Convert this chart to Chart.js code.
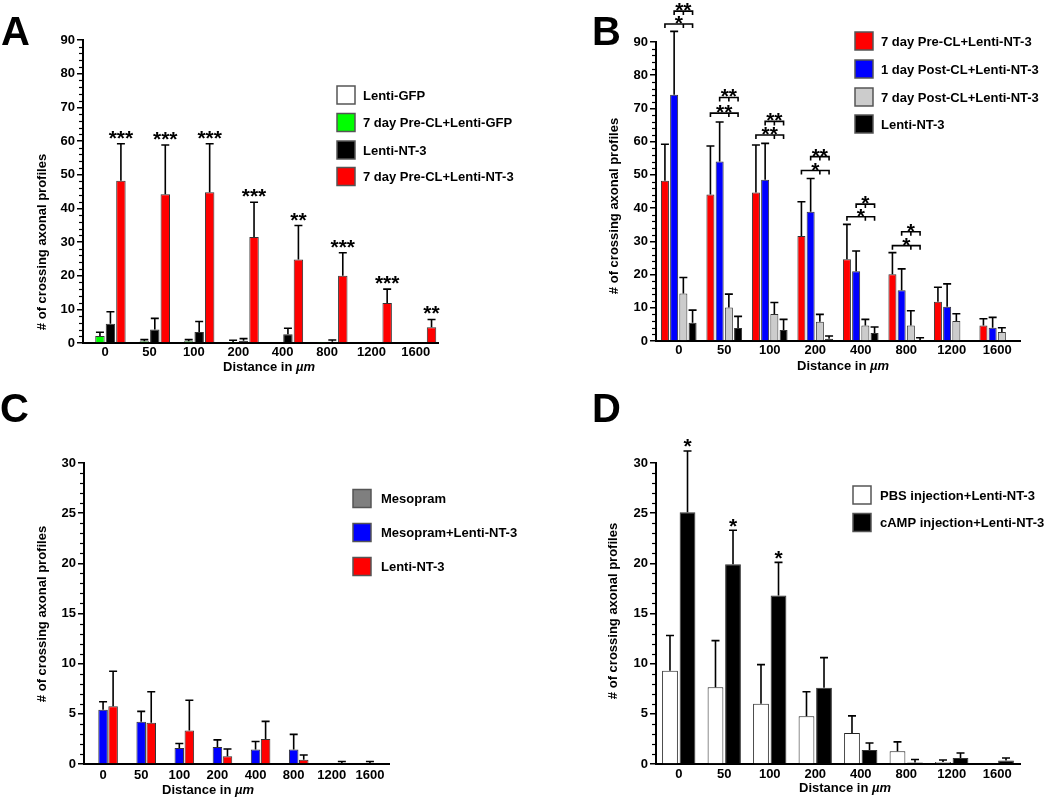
<!DOCTYPE html>
<html>
<head>
<meta charset="utf-8">
<script src="https://cdn.jsdelivr.net/npm/chart.js@4.4.1/dist/chart.umd.min.js"></script>
<style>
  html, body { margin: 0; padding: 0; background: #fff; }
  #wrap { position: relative; width: 1050px; height: 799px; }
  canvas { position: absolute; }
</style>
</head>
<body>
<div id="wrap">
  <canvas id="chartA" width="520" height="390" style="left:0;top:0"></canvas>
  <canvas id="chartB" width="530" height="390" style="left:520px;top:0"></canvas>
  <canvas id="chartC" width="520" height="409" style="left:0;top:390px"></canvas>
  <canvas id="chartD" width="530" height="409" style="left:520px;top:390px"></canvas>
</div>
<script>
const distances = ['0', '50', '100', '200', '400', '800', '1200', '1600'];

// panel A
const aLentiGfp = [0, 0, 0, 0, 0, 0, 0, 0];
const aPreClGfp = [2.1, 0.5, 0.5, 0.3, 0, 0.3, 0, 0];
const aPreClGfpErr = [1.1, 0.5, 0.5, 0.5, 0, 0, 0, 0];
const aLentiNt3 = [5.7, 4.0, 3.3, 0.7, 2.6, 0.4, 0.3, 0];
const aLentiNt3Err = [3.6, 3.3, 3.1, 0.6, 1.8, 0.5, 0, 0];
const aPreClNt3 = [48.2, 44.2, 44.8, 31.5, 24.8, 20.0, 11.9, 4.7];
const aPreClNt3Err = [11.0, 14.6, 14.4, 10.3, 10.1, 6.8, 4.1, 2.3];
const aStars = ['***', '***', '***', '***', '**', '***', '***', '**'];

// panel B
const bPreCl = [48.2, 44.1, 44.7, 31.6, 24.6, 20.1, 11.8, 4.7];
const bPreClErr = [11.0, 14.6, 14.3, 10.3, 10.5, 6.5, 4.4, 2.0];
const bPost1 = [74.1, 54.0, 48.5, 38.9, 21.0, 15.3, 10.3, 4.0];
const bPost1Err = [19.1, 11.9, 11.0, 10.0, 6.1, 6.4, 6.9, 3.1];
const bPost7 = [14.3, 10.1, 8.1, 5.8, 4.7, 4.7, 6.0, 2.7];
const bPost7Err = [4.8, 4.0, 3.5, 2.2, 1.8, 4.4, 2.2, 1.3];
const bLentiNt3 = [5.5, 3.9, 3.3, 0.7, 2.4, 0.3, 0.2, 0];
const bLentiNt3Err = [3.8, 3.5, 3.2, 0.8, 1.8, 0.7, 0, 0];
// significance brackets (height in axis units)
const bLowLevel = [95.4, 68.6, 62.0, 51.3, 37.4, 28.7];
const bLowStars = ['*', '**', '**', '*', '*', '*'];
const bHighLevel = [99.3, 73.3, 66.1, 55.5, 41.2, 32.9];
const bHighStars = ['**', '**', '**', '**', '*', '*'];

// panel C
const cMesopram = [0, 0, 0, 0, 0, 0, 0, 0];
const cMesoNt3 = [5.4, 4.2, 1.6, 1.7, 1.45, 1.45, 0, 0];
const cMesoNt3Err = [0.8, 1.05, 0.45, 0.7, 0.8, 1.5, 0, 0.25];
const cLentiNt3 = [5.75, 4.1, 3.35, 0.76, 2.5, 0.43, 0, 0];
const cLentiNt3Err = [3.5, 3.1, 3.0, 0.74, 1.75, 0.47, 0.25, 0];

// panel D
const dPbs = [9.3, 7.65, 6.0, 4.75, 3.1, 1.26, 0.2, 0];
const dPbsErr = [3.5, 4.65, 3.9, 2.45, 1.7, 0.95, 0.2, 0];
const dCamp = [25.1, 19.9, 16.8, 7.6, 1.4, 0.15, 0.6, 0.35];
const dCampErr = [6.1, 3.4, 3.3, 3.0, 0.7, 0.3, 0.5, 0.25];
const dStars = ['*', '*', '*', '', '', '', '', ''];

const FONT = "'Liberation Sans', Arial, Helvetica, sans-serif";
const tickFont = { family: FONT, size: 13, weight: 'bold' };

function ds(label, data, color, border) {
  return { label, data, backgroundColor: color, borderColor: border || '#333', borderWidth: 1, borderSkipped: 'start' };
}

function drawStars(ctx, text, x, cy) {
  ctx.font = 'bold 21px ' + FONT;
  ctx.textAlign = 'center';
  ctx.textBaseline = 'alphabetic';
  ctx.fillText(text, x, cy + 12);
}

function decorPlugin(d) {
  return {
    id: 'decor',
    afterDatasetsDraw(chart) {
      const ctx = chart.ctx, y = chart.scales.y;
      ctx.save();
      ctx.strokeStyle = '#000';
      ctx.lineWidth = 1.6;
      d.errs.forEach((errs, i) => {
        if (!errs) return;
        const meta = chart.getDatasetMeta(i);
        const vals = chart.data.datasets[i].data;
        errs.forEach((e, j) => {
          if (!e) return;
          const bx = meta.data[j].x;
          const y0 = y.getPixelForValue(vals[j]);
          const y1 = y.getPixelForValue(vals[j] + e);
          ctx.beginPath();
          ctx.moveTo(bx, y0); ctx.lineTo(bx, y1);
          ctx.moveTo(bx - 4, y1); ctx.lineTo(bx + 4, y1);
          ctx.stroke();
        });
      });
      ctx.restore();
    },
    afterDraw(chart) {
      const ctx = chart.ctx, y = chart.scales.y, area = chart.chartArea;
      ctx.save();
      ctx.fillStyle = '#000';
      ctx.strokeStyle = '#000';

      // minor ticks
      ctx.lineWidth = 1.2;
      for (let v = 0; v <= d.yMax + 1e-6; v += d.minor) {
        if (Math.abs(v / d.major - Math.round(v / d.major)) < 1e-6) continue;
        const py = Math.round(y.getPixelForValue(v)) + 0.5;
        ctx.beginPath();
        ctx.moveTo(area.left - 1, py); ctx.lineTo(area.left - 4, py);
        ctx.stroke();
      }

      // panel letter
      ctx.font = 'bold 40px ' + FONT;
      ctx.textAlign = 'left';
      ctx.textBaseline = 'alphabetic';
      ctx.fillText(d.letter.text, d.letter.x, d.letter.y);

      // y title
      ctx.save();
      ctx.translate(d.yTitle.x, d.yTitle.y);
      ctx.rotate(-Math.PI / 2);
      ctx.font = 'bold 13px ' + FONT;
      ctx.textAlign = 'center';
      ctx.textBaseline = 'middle';
      ctx.fillText('# of crossing axonal profiles', 0, 0);
      ctx.restore();

      // x title with italic unit
      ctx.font = 'bold 13px ' + FONT;
      const t1 = 'Distance in ';
      const w1 = ctx.measureText(t1).width;
      ctx.font = 'italic bold 13px ' + FONT;
      const w2 = ctx.measureText('\u00b5m').width;
      let sx = d.xTitle.x - (w1 + w2) / 2;
      ctx.textAlign = 'left';
      ctx.textBaseline = 'middle';
      ctx.font = 'bold 13px ' + FONT;
      ctx.fillText(t1, sx, d.xTitle.y);
      ctx.font = 'italic bold 13px ' + FONT;
      ctx.fillText('\u00b5m', sx + w1, d.xTitle.y);

      // legend
      d.legend.rows.forEach((ry, i) => {
        const dset = chart.data.datasets[i];
        ctx.fillStyle = dset.backgroundColor;
        ctx.fillRect(d.legend.x, ry - 9, 18, 18);
        ctx.strokeStyle = '#555';
        ctx.lineWidth = 1.5;
        ctx.strokeRect(d.legend.x, ry - 9, 18, 18);
        ctx.fillStyle = '#000';
        ctx.font = 'bold 13px ' + FONT;
        ctx.textAlign = 'left';
        ctx.textBaseline = 'middle';
        ctx.fillText(dset.label, d.legend.tx, ry + 1);
      });

      // stars above error bars
      if (d.stars) {
        const idx = d.stars.dataset;
        const meta = chart.getDatasetMeta(idx);
        const vals = chart.data.datasets[idx].data;
        d.stars.marks.forEach((m, j) => {
          if (!m) return;
          const top = y.getPixelForValue(vals[j] + d.errs[idx][j]);
          drawStars(ctx, m, meta.data[j].x, top - d.stars.gap);
        });
      }

      // comparison brackets
      if (d.brackets) {
        ctx.strokeStyle = '#000';
        ctx.lineWidth = 1.6;
        d.brackets.forEach(b => {
          const mf = chart.getDatasetMeta(b.from), mm = chart.getDatasetMeta(b.mid), mt = chart.getDatasetMeta(b.to);
          b.levels.forEach((lv, j) => {
            const xl = mf.data[j].x, xm = mm.data[j].x, xr = mt.data[j].x;
            const py = y.getPixelForValue(lv);
            ctx.beginPath();
            ctx.moveTo(xl, py + 4); ctx.lineTo(xl, py); ctx.lineTo(xr, py); ctx.lineTo(xr, py + 4);
            ctx.moveTo(xm, py); ctx.lineTo(xm, py + 4);
            ctx.stroke();
            drawStars(ctx, b.marks[j], (xl + xr) / 2, py - 6);
          });
        });
      }
      ctx.restore();
    }
  };
}

function makeChart(id, box, datasets, decor) {
  return new Chart(document.getElementById(id), {
    type: 'bar',
    data: { labels: distances, datasets },
    options: {
      responsive: false,
      animation: false,
      devicePixelRatio: 1,
      layout: { padding: { left: box.left - 40, top: box.top, right: box.right, bottom: box.bottom - 20 } },
      plugins: { legend: { display: false }, tooltip: { enabled: false } },
      datasets: { bar: { categoryPercentage: box.cat, barPercentage: box.bar } },
      scales: {
        x: {
          grid: { display: false, drawTicks: false },
          border: { color: '#000', width: 2 },
          ticks: { color: '#000', font: tickFont, padding: box.xPad, maxRotation: 0, autoSkip: false },
          afterFit: s => { s.height = 20; }
        },
        y: {
          min: 0, max: decor.yMax,
          ticks: { stepSize: decor.major, color: '#000', font: tickFont, padding: 2 },
          grid: { drawOnChartArea: false, drawTicks: true, tickLength: 6, color: '#000', lineWidth: 1.5 },
          border: { color: '#000', width: 2 },
          afterFit: s => { s.width = 40; }
        }
      }
    },
    plugins: [decorPlugin(decor)]
  });
}

makeChart('chartA',
  { left: 83, top: 40, right: 82, bottom: 47, cat: 0.945, bar: 0.9, xPad: 2 },
  [
    ds('Lenti-GFP', aLentiGfp, '#ffffff'),
    ds('7 day Pre-CL+Lenti-GFP', aPreClGfp, '#00ff00'),
    ds('Lenti-NT-3', aLentiNt3, '#000000'),
    ds('7 day Pre-CL+Lenti-NT-3', aPreClNt3, '#ff0000')
  ],
  {
    yMax: 90, major: 10, minor: 2,
    errs: [null, aPreClGfpErr, aLentiNt3Err, aPreClNt3Err],
    letter: { text: 'A', x: 1, y: 45 },
    yTitle: { x: 42, y: 242 },
    xTitle: { x: 269, y: 367 },
    legend: { x: 337, tx: 363, rows: [95, 122.5, 150, 176.5] },
    stars: { dataset: 3, marks: aStars, gap: 11 }
  });

makeChart('chartB',
  { left: 136, top: 42, right: 30, bottom: 49, cat: 0.81, bar: 0.87, xPad: 2 },
  [
    ds('7 day Pre-CL+Lenti-NT-3', bPreCl, '#ff0000'),
    ds('1 day Post-CL+Lenti-NT-3', bPost1, '#0000ff'),
    ds('7 day Post-CL+Lenti-NT-3', bPost7, '#cccccc'),
    ds('Lenti-NT-3', bLentiNt3, '#000000')
  ],
  {
    yMax: 90, major: 10, minor: 2,
    errs: [bPreClErr, bPost1Err, bPost7Err, bLentiNt3Err],
    letter: { text: 'B', x: 72, y: 45 },
    yTitle: { x: 94, y: 206 },
    xTitle: { x: 323, y: 366 },
    legend: { x: 335, tx: 361, rows: [41, 69, 97, 124] },
    brackets: [
      { from: 0, mid: 2, to: 3, levels: bLowLevel, marks: bLowStars },
      { from: 1, mid: 2, to: 3, levels: bHighLevel, marks: bHighStars }
    ]
  });

makeChart('chartC',
  { left: 84, top: 73, right: 131, bottom: 35, cat: 0.79, bar: 0.95, xPad: 4 },
  [
    ds('Mesopram', cMesopram, '#7f7f7f'),
    ds('Mesopram+Lenti-NT-3', cMesoNt3, '#0000ff'),
    ds('Lenti-NT-3', cLentiNt3, '#ff0000')
  ],
  {
    yMax: 30, major: 5, minor: 1,
    errs: [null, cMesoNt3Err, cLentiNt3Err],
    letter: { text: 'C', x: 0, y: 32 },
    yTitle: { x: 42, y: 224 },
    xTitle: { x: 208, y: 400 },
    legend: { x: 353, tx: 381, rows: [108.5, 142.5, 176.5] }
  });

makeChart('chartD',
  { left: 136, top: 73, right: 30, bottom: 35, cat: 0.77, bar: 0.9, xPad: 3 },
  [
    ds('PBS injection+Lenti-NT-3', dPbs, '#ffffff', '#222'),
    ds('cAMP injection+Lenti-NT-3', dCamp, '#000000')
  ],
  {
    yMax: 30, major: 5, minor: 1,
    errs: [dPbsErr, dCampErr],
    letter: { text: 'D', x: 72, y: 32 },
    yTitle: { x: 93, y: 221 },
    xTitle: { x: 325, y: 398 },
    legend: { x: 333, tx: 360, rows: [105, 132.5] },
    stars: { dataset: 1, marks: dStars, gap: 9.5 }
  });
</script>
</body>
</html>
